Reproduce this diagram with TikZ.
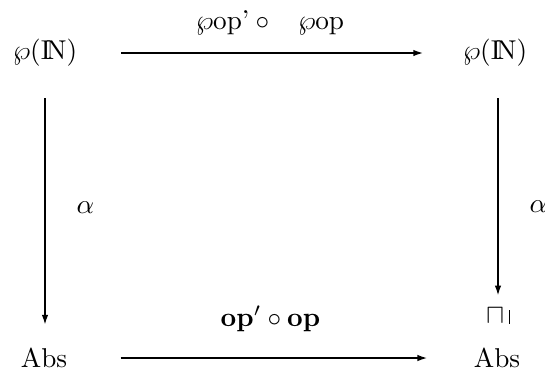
\documentclass[tikz,border=0pt]{standalone}
\usepackage{amsmath,amssymb}
\usepackage{tikz}
\usetikzlibrary{arrows.meta,positioning}

\begin{document}
\begin{tikzpicture}[x=0.367pt, y=-0.367pt, >={Latex[length=3.6pt,width=2.4pt]}, line width=0.55pt]
\useasboundingbox (0,0) rectangle (545,372);
\node (pl) at (45,53) {$\wp(\mathrm{I\!N})$};
\node (pr) at (495,53) {$\wp(\mathrm{I\!N})$};
\node (al) at (44,358) {Abs};
\node (ar) at (497,358) {Abs};
\node[inner sep=1pt] (sq) at (498,316) {$\sqcap\,\rule{0.4pt}{5pt}$};

\draw[->,shorten <=12.5pt,shorten >=11pt] (pl) -- node[midway,above=3pt] {$\wp\mbox{op'}\circ\;\;\;\wp\mbox{op}$} (pr);
\draw[->,shorten <=16pt,shorten >=13.5pt] (al) -- node[midway,above=6pt] {$\mathbf{op}'\circ\mathbf{op}$} (ar);
\draw[->,shorten <=8pt,shorten >=5pt] (pl.south -| 45,0) -- node[midway,right=8pt] {$\alpha$} (al.north -| 45,0);
\draw[->,shorten <=8pt,shorten >=3.5pt] (pr.south -| 498,0) -- node[pos=0.57,right=8pt] {$\alpha$} (sq.north -| 498,0);
\end{tikzpicture}
\end{document}
